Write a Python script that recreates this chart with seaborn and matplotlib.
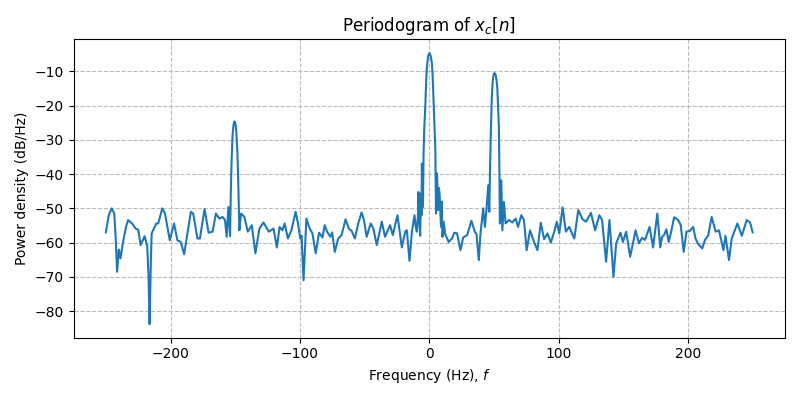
import matplotlib
matplotlib.use("Agg")
import matplotlib.pyplot as plt
import seaborn as sns
import pandas as pd

freq_left = [-250, -247.8, -245.5, -243.5, -242.5, -241.3, -240, -238.7, -236.9, -234.5,
             -232.8, -229.7, -227, -225, -223.1, -220, -218, -217, -216.2, -215.2,
             -214.6, -211, -209.5, -206.4, -204.3, -200.6, -197.3, -194.7, -192.1, -189.5,
             -184.3, -182.5, -179.2, -177.3, -173.7, -170.6, -167.5, -164.9, -162.3, -159.8,
             -157.9]
power_left = [-57, -52, -50, -51.5, -58, -68.5, -62, -64.6, -60.2, -55.5,
              -53.4, -54.4, -55.9, -56.2, -60.7, -58.1, -61.2, -70, -83.8, -65,
              -57.3, -54.4, -54.4, -50, -51.5, -59.3, -54.4, -59.3, -59.8, -63.4,
              -51, -51.5, -58.8, -58.8, -50.2, -57.1, -56.8, -51.5, -53, -52.5,
              -53.4]

freq_mid = [-156.6, -155.3, -154, -153.4, -152.8, -152.1, -151.4, -150.6, -149.8, -149.1,
            -148.4, -147.8, -147.2, -146.8, -145.5, -142.9, -140.3, -137.2, -134.4, -131.3,
            -128.2, -124, -120.4, -117.8, -115.7, -113.6, -111.8, -109.3, -106.6, -103.3,
            -101.5, -99.7, -98.7, -97.2, -95, -92.4, -90.3, -87.8, -85.2, -82.6,
            -80.8, -79, -76.4, -75.1, -73, -70.4, -67.8, -64.7, -62.1, -60,
            -57.5, -54.9, -52.3, -50.5, -48.4, -45.3, -43.2, -40.6, -36.7, -34.2,
            -30.3, -28.2, -24.6, -21.2, -18.6, -17.3, -15.3, -13.4, -11.4, -10.4]
power_mid = [-58.3, -49.6, -58.1, -45, -36, -29, -25.8, -24.6, -25.3, -28,
             -33, -40, -50, -56.4, -51.5, -52.5, -56.8, -54.9, -63.1, -55.9,
             -54.1, -56.8, -55.9, -61.4, -55.4, -56.4, -54.4, -58.8, -56.4, -51,
             -54.4, -58.8, -58, -71, -53, -55.9, -57.3, -63.1, -57.1, -58.5,
             -54.9, -56.8, -58.3, -57, -62.7, -58.8, -57.8, -53.2, -55.9, -56.6,
             -58.8, -54.4, -51.2, -53.4, -58.3, -54.4, -55.9, -60.7, -53.9, -58.3,
             -54.9, -57.8, -52, -61.4, -56.8, -56.4, -65.3, -56.8, -52, -55.5]

freq_center = [-9.6, -8.8, -8.3, -7.5, -7.0, -6.4, -6.0, -5.7, -5.3, -4.9,
               -4.4, -3.9, -3.1, -2.4, -1.8, -0.9, 0.2, 1.2, 2.1, 2.7,
               3.3, 4.0, 4.7, 5.2, 6.0, 6.8, 7.4, 8.0, 8.5, 9.1,
               9.6, 10.2, 11.1, 12.3, 15, 17.6, 19.4, 21.5, 24.1, 26.2,
               29.3, 32.6, 35.2, 36.5, 38.3, 39.6, 41.7, 43, 44.3, 45.6,
               46.4, 47, 47.6, 48.3, 49, 49.7, 50.5, 51.3, 52, 52.6,
               53.2, 53.8, 54.2, 54.6, 55.7, 56.5, 57.7, 59, 61.6, 64.2,
               66.8, 68.6, 71.2, 73.2, 75.3, 77.9, 81, 83.6]
power_center = [-56.8, -52.5, -45.2, -54.9, -58, -45.7, -52, -36.9, -47, -49.6,
                -34, -27, -20.4, -13, -8.7, -5.5, -4.6, -5.6, -7.8, -12,
                -18.5, -26, -33, -51.5, -39.8, -50.5, -44, -45.7, -50.5, -55.4,
                -48, -58.3, -53.9, -57.5, -59.8, -58.8, -57.1, -57.3, -62.2, -58.5,
                -57.8, -53.6, -56.8, -57.5, -65.1, -57.3, -50, -55.4, -50, -43.2,
                -51, -38, -28, -18, -13, -11, -10.5, -11, -12.5, -15,
                -20, -26.2, -38, -54.4, -41.8, -56.4, -48.1, -54.4, -53.4, -54.1,
                -53, -55.4, -52, -53.4, -62.2, -56.4, -59.8, -62.2]

freq_right = [86.2, 88.8, 91.4, 94, 96.6, 98.6, 100.5, 103.1, 105.6, 108.2,
              112.1, 115.2, 118.6, 121.2, 125, 128.2, 131.5, 133.6, 136.7, 139.3,
              142.4, 144.5, 147.8, 149.7, 152.2, 155.3, 159.5, 162.1, 164.5, 166.8,
              170.3, 173, 176.3, 178.6, 180, 181.5, 183.3, 185.1, 187.2, 189.3,
              192.4, 194.4, 196.7, 198.8, 201.4, 204, 205.8, 207.9, 211, 213.1,
              215.7, 218.3, 221.4, 224, 227.4, 229, 231.7, 233.8, 238.2, 241.6,
              245.4, 248, 250]
power_right = [-54.2, -59, -57.3, -60, -56.8, -53.9, -57.3, -49.7, -56.8, -55.4,
               -58.8, -50.5, -53.2, -53.9, -51.3, -56.4, -52, -53.4, -65.6, -53.4,
               -70, -60.2, -57.1, -59.8, -56.8, -64.1, -56.4, -60.2, -58.6, -59.2,
               -55.4, -61.4, -51.5, -61.4, -58.3, -57.8, -56.1, -59.8, -56.4, -52.6,
               -53.4, -54.9, -62.7, -56.8, -56.6, -55.4, -58.8, -60.4, -61.7, -59.3,
               -57.8, -52.5, -56.8, -56.4, -62.2, -58, -65.1, -58.8, -54.4, -58,
               -53.4, -54.1, -57]

df = pd.DataFrame({
    "f": freq_left + freq_mid + freq_center + freq_right,
    "p": power_left + power_mid + power_center + power_right,
})

fig, ax = plt.subplots(figsize=(8, 4), dpi=100)
sns.lineplot(data=df, x="f", y="p", ax=ax, sort=False, color="#1f77b4", linewidth=1.5)
ax.grid(True, linestyle="--", color="#bbbbbb", linewidth=0.8)
ax.set_title("Periodogram of $x_c[n]$")
ax.set_xlabel("Frequency (Hz), $f$")
ax.set_ylabel("Power density (dB/Hz)")
fig.tight_layout()
fig.savefig("out.png", dpi=100)
